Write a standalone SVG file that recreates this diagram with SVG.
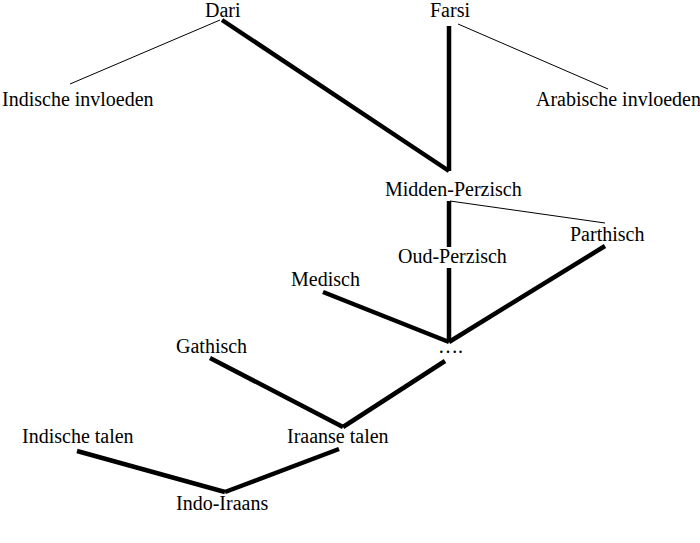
<svg xmlns="http://www.w3.org/2000/svg" width="700" height="543" viewBox="0 0 700 543">
<style>
text { font-family: "Liberation Serif", "Times New Roman", serif; font-size: 20px; fill: #000; }
.thick { stroke: #000; stroke-width: 4.5; fill: none; }
.thin { stroke: #000; stroke-width: 1; fill: none; }
</style>
<rect width="700" height="543" fill="#fff"/>
<g id="connectors">
<line class="thin" x1="220" y1="20" x2="70" y2="84"/>
<line class="thick" x1="222" y1="20" x2="449" y2="171"/>
<line class="thick" x1="449" y1="26" x2="449" y2="171"/>
<line class="thin" x1="458" y1="24" x2="608" y2="89"/>
<line class="thin" x1="450" y1="201" x2="605" y2="223"/>
<line class="thick" x1="449" y1="201" x2="449" y2="247"/>
<line class="thick" x1="449" y1="268" x2="449" y2="342"/>
<line class="thick" x1="323" y1="292" x2="449" y2="342"/>
<line class="thick" x1="605" y1="246" x2="449" y2="342"/>
<line class="thick" x1="210" y1="358" x2="343" y2="427"/>
<line class="thick" x1="445" y1="361" x2="343" y2="427"/>
<line class="thick" x1="77" y1="451" x2="225" y2="492"/>
<line class="thick" x1="339" y1="449" x2="225" y2="492"/>
</g>
<g id="dari"><text x="205" y="17">Dari</text></g>
<g id="farsi"><text x="430" y="17">Farsi</text></g>
<g id="indische-invloeden"><text x="2" y="106">Indische invloeden</text></g>
<g id="arabische-invloeden"><text x="536" y="106">Arabische invloeden</text></g>
<g id="midden-perzisch"><text x="385" y="196">Midden-Perzisch</text></g>
<g id="parthisch"><text x="570" y="241">Parthisch</text></g>
<g id="oud-perzisch"><text x="398" y="263">Oud-Perzisch</text></g>
<g id="medisch"><text x="291" y="286">Medisch</text></g>
<g id="dots"><text x="438" y="353">….</text></g>
<g id="gathisch"><text x="176" y="353">Gathisch</text></g>
<g id="indische-talen"><text x="22" y="443">Indische talen</text></g>
<g id="iraanse-talen"><text x="287" y="443">Iraanse talen</text></g>
<g id="indo-iraans"><text x="176" y="510">Indo-Iraans</text></g>
</svg>
